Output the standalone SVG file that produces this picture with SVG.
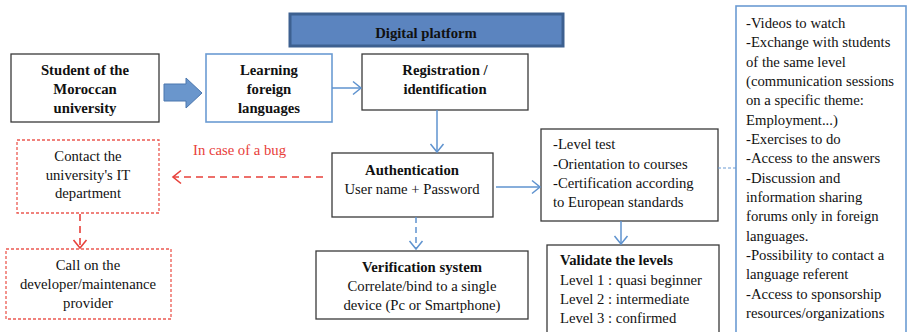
<svg xmlns="http://www.w3.org/2000/svg" width="911" height="332" viewBox="0 0 911 332">
  <style>
    text { font-family: "Liberation Serif", "Times New Roman", serif; font-size: 14.7px; fill: #111; }
    .b { font-weight: bold; }
    .c { text-anchor: middle; }
    .red { fill: #e8403a; }
    .box { fill: #fff; stroke: #3a3a3a; stroke-width: 1.3; }
    .bbox { fill: #fff; stroke: #6b9bd3; stroke-width: 1.6; }
    .rbox { fill: #fff; stroke: #ec5a52; stroke-width: 1.3; stroke-dasharray: 3 2; }
    .bl { fill: none; stroke: #5f93cf; stroke-width: 1.5; }
    .rl { fill: none; stroke: #e8403a; stroke-width: 1.6; stroke-dasharray: 7 5; }
  </style>
  <defs>
    <marker id="ab" markerUnits="userSpaceOnUse" markerWidth="14" markerHeight="16" refX="10" refY="8" orient="auto">
      <path d="M2,1.5 L10,8 L2,14.5" fill="none" stroke="#5f93cf" stroke-width="1.5"/>
    </marker>
    <marker id="ar" markerUnits="userSpaceOnUse" markerWidth="14" markerHeight="16" refX="10" refY="8" orient="auto">
      <path d="M2,1.5 L10,8 L2,14.5" fill="none" stroke="#e8403a" stroke-width="1.6"/>
    </marker>
  </defs>

  <!-- platform banner -->
  <g id="platform">
    <rect x="290" y="14" width="273" height="32" fill="#5b84bf" stroke="#3d6090" stroke-width="3"/>
    <text class="b c" x="426" y="38">Digital platform</text>
  </g>

  <g id="student">
    <rect class="box" x="11" y="54" width="148" height="68"/>
    <text class="b c" x="85" y="75">Student of the</text>
    <text class="b c" x="85" y="94">Moroccan</text>
    <text class="b c" x="85" y="113">university</text>
  </g>

  <g id="learning">
    <rect class="bbox" x="206" y="54" width="126" height="68"/>
    <text class="b c" x="269" y="75">Learning</text>
    <text class="b c" x="269" y="94">foreign</text>
    <text class="b c" x="269" y="113">languages</text>
  </g>

  <g id="registration">
    <rect class="box" x="362" y="54" width="166" height="56"/>
    <text class="b c" x="445" y="75">Registration /</text>
    <text class="b c" x="445" y="94">identification</text>
  </g>

  <g id="authentication">
    <rect class="box" x="332" y="153" width="161" height="64"/>
    <text class="b c" x="412" y="175">Authentication</text>
    <text class="c" x="412" y="194">User name + Password</text>
  </g>

  <g id="it-dept">
    <rect class="rbox" x="17" y="140" width="142" height="73"/>
    <text class="c" x="88" y="161">Contact the</text>
    <text class="c" x="88" y="180">university's IT</text>
    <text class="c" x="88" y="198">department</text>
  </g>

  <g id="maintenance">
    <rect class="rbox" x="6" y="249" width="165" height="70"/>
    <text class="c" x="88" y="270">Call on the</text>
    <text class="c" x="88" y="289">developer/maintenance</text>
    <text class="c" x="88" y="308">provider</text>
  </g>

  <g id="verification">
    <rect class="box" x="316" y="251" width="212" height="68"/>
    <text class="b c" x="422" y="272">Verification system</text>
    <text class="c" x="422" y="291">Correlate/bind to a single</text>
    <text class="c" x="422" y="310">device (Pc or Smartphone)</text>
  </g>

  <g id="services">
    <rect class="box" x="541" y="129" width="177" height="92"/>
    <text x="553" y="149">-Level test</text>
    <text x="553" y="168.5">-Orientation to courses</text>
    <text x="553" y="188">-Certification according</text>
    <text x="553" y="207">to European standards</text>
  </g>

  <g id="levels">
    <rect class="box" x="547" y="245" width="172" height="100"/>
    <text class="b" x="560" y="265">Validate the levels</text>
    <text x="560" y="284.5">Level 1 : quasi beginner</text>
    <text x="560" y="304">Level 2 : intermediate</text>
    <text x="560" y="323">Level 3 : confirmed</text>
  </g>

  <g id="resources">
    <rect class="bbox" x="736" y="6" width="170" height="340"/>
    <text x="746" y="28">-Videos to watch</text>
    <text x="746" y="47.3">-Exchange with students</text>
    <text x="746" y="66.6">of the same level</text>
    <text x="746" y="86">(communication sessions</text>
    <text x="746" y="105.3">on a specific theme:</text>
    <text x="746" y="124.6">Employment...)</text>
    <text x="746" y="144">-Exercises to do</text>
    <text x="746" y="163.3">-Access to the answers</text>
    <text x="746" y="182.6">-Discussion and</text>
    <text x="746" y="202">information sharing</text>
    <text x="746" y="221.3">forums only in foreign</text>
    <text x="746" y="240.6">languages.</text>
    <text x="746" y="260">-Possibility to contact a</text>
    <text x="746" y="279.3">language referent</text>
    <text x="746" y="298.6">-Access to sponsorship</text>
    <text x="746" y="318">resources/organizations</text>
  </g>

  <g id="connectors">
    <!-- block arrow student -> learning -->
    <path d="M164,84 L186,84 L186,78 L202,93 L186,108 L186,101 L164,101 Z" fill="#6a96cc" stroke="#4a76ae" stroke-width="1"/>
    <line class="bl" x1="332" y1="88" x2="361" y2="88" marker-end="url(#ab)"/>
    <line class="bl" x1="437" y1="110" x2="437" y2="152" marker-end="url(#ab)"/>
    <line class="bl" x1="496" y1="187" x2="540" y2="187" marker-end="url(#ab)"/>
    <line class="bl" x1="621" y1="221" x2="621" y2="244" marker-end="url(#ab)"/>
    <line class="bl" x1="416" y1="217" x2="416" y2="249" stroke-dasharray="6 4" marker-end="url(#ab)"/>
    <line x1="718" y1="168" x2="736" y2="168" stroke="#6b9bd3" stroke-width="1" stroke-dasharray="3 2"/>
    <line class="rl" x1="323" y1="177" x2="173" y2="177" marker-end="url(#ar)"/>
    <line class="rl" x1="80" y1="214" x2="80" y2="248" marker-end="url(#ar)"/>
    <text class="red" x="193" y="155">In case of a bug</text>
  </g>
</svg>
